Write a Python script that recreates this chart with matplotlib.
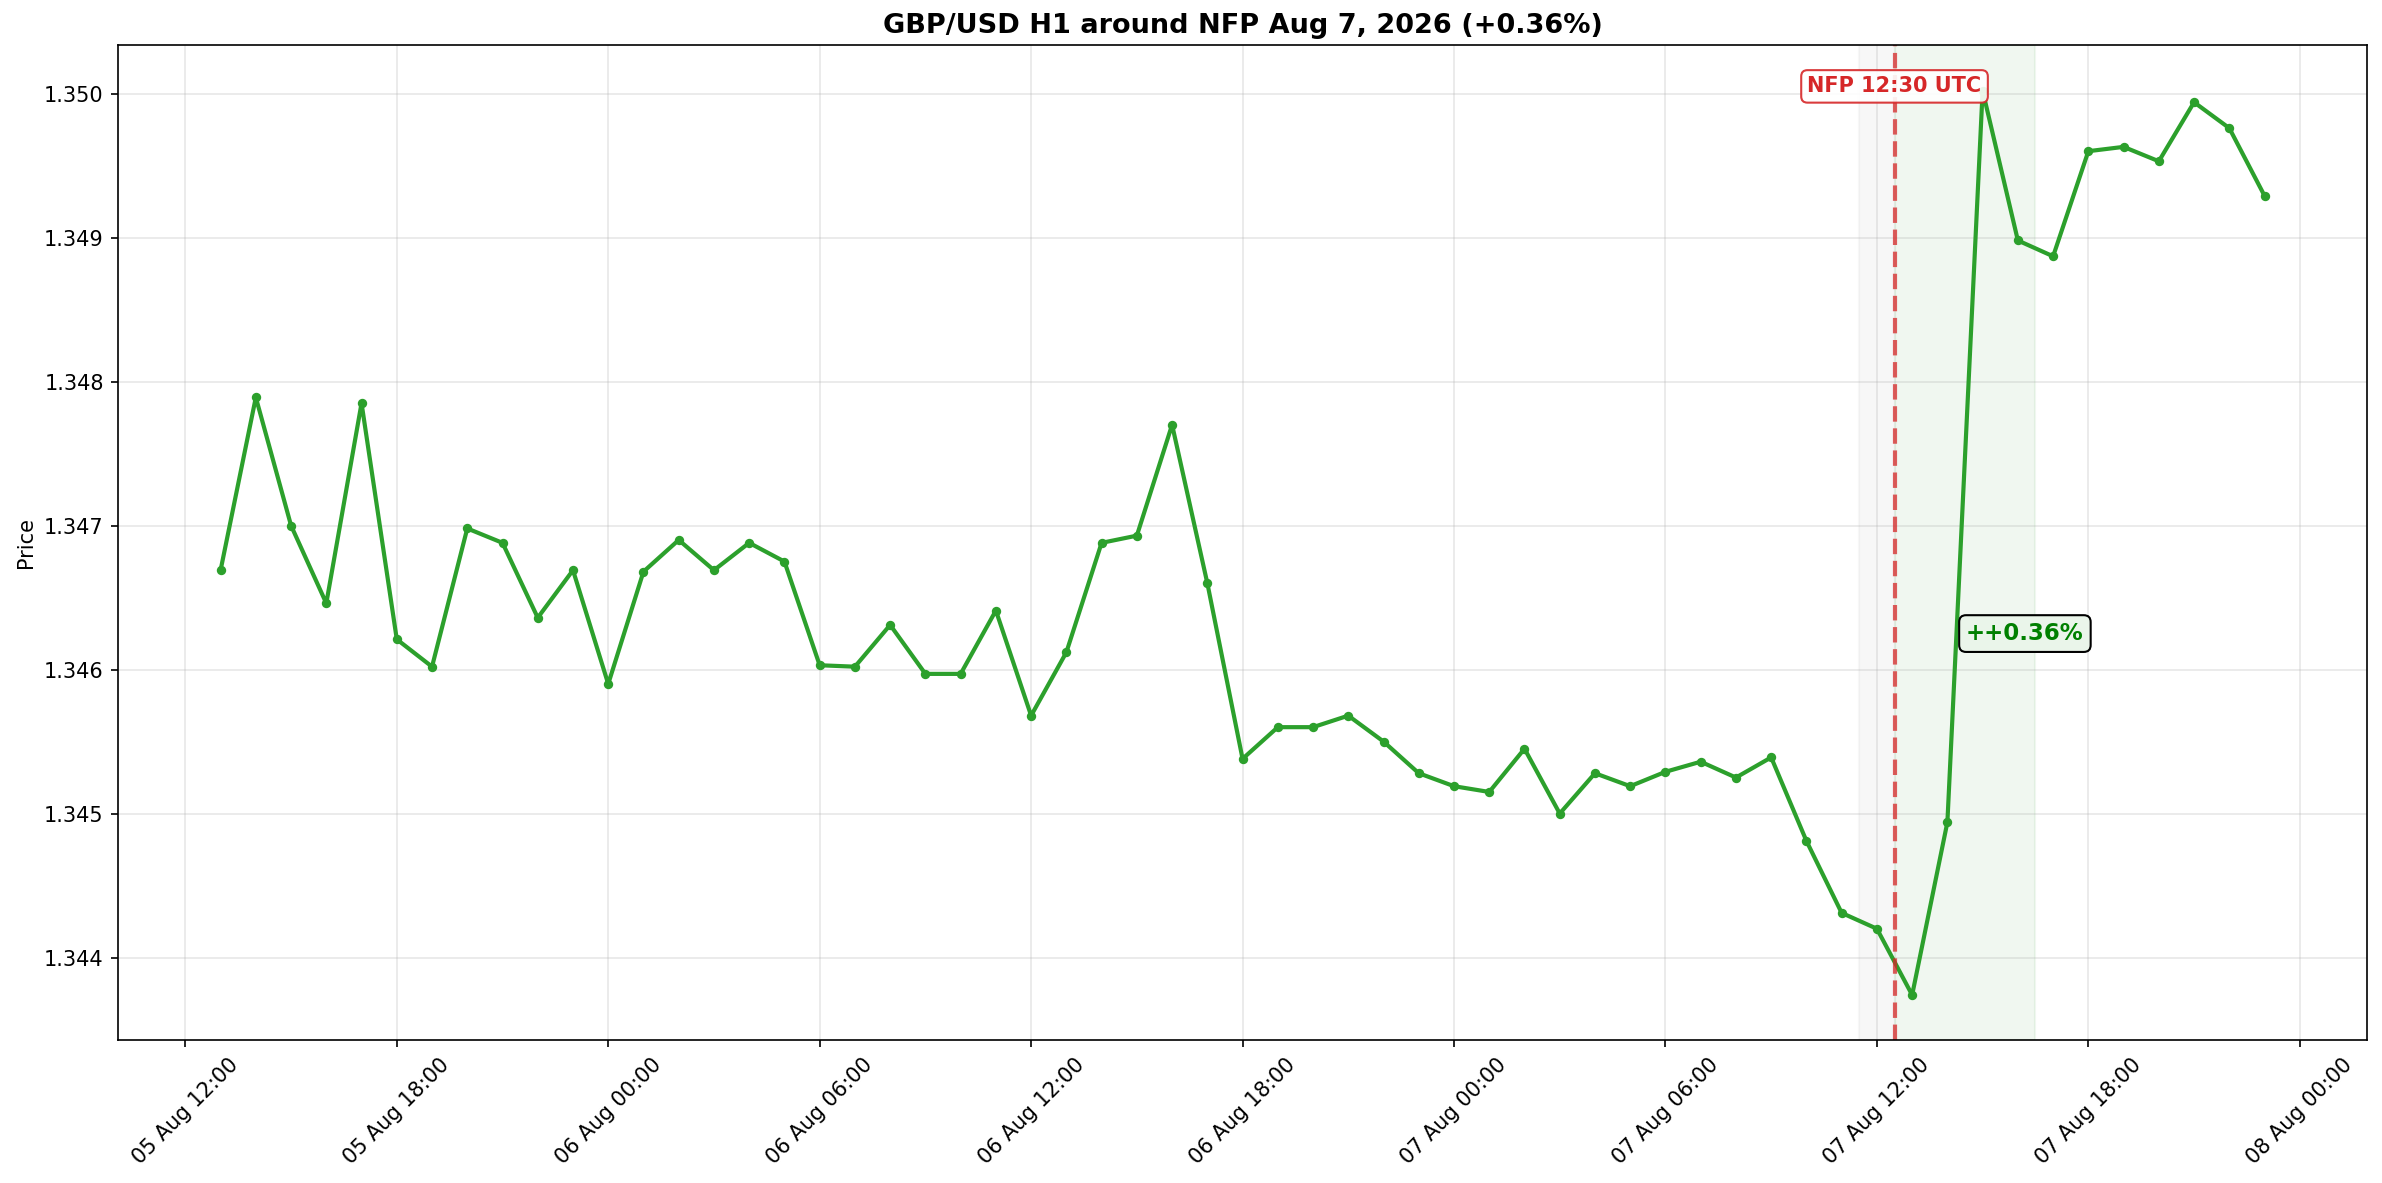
import matplotlib
matplotlib.use("Agg")
import matplotlib.pyplot as plt
import matplotlib.dates as mdates
import pandas as pd

start_time = "2026-08-05 13:00"
prices = [
    1.34669, 1.34789, 1.34700, 1.34646, 1.34785, 1.34621, 1.34602, 1.34698, 1.34688, 1.34636,
    1.34669, 1.34590, 1.34668, 1.34690, 1.34669, 1.34688, 1.34675, 1.34603, 1.34602, 1.34631,
    1.34597, 1.34597, 1.34641, 1.34568, 1.34612, 1.34688, 1.34693, 1.34770, 1.34660, 1.34538,
    1.34560, 1.34560, 1.34568, 1.34550, 1.34528, 1.34519, 1.34515, 1.34545, 1.34500, 1.34528,
    1.34519, 1.34529, 1.34536, 1.34525, 1.34539, 1.34481, 1.34431, 1.34420, 1.34374, 1.34494,
    1.35002, 1.34898, 1.34887, 1.34960, 1.34963, 1.34953, 1.34994, 1.34976, 1.34929,
]
nfp_time = "2026-08-07 12:30"
nfp_label = "NFP 12:30 UTC"
change_label = "++0.36%"
title = "GBP/USD H1 around NFP Aug 7, 2026 (+0.36%)"

times = pd.date_range(start_time, periods=len(prices), freq="h")
nfp = pd.Timestamp(nfp_time)

fig, ax = plt.subplots(figsize=(15.88, 7.887), dpi=150)
fig.subplots_adjust(left=0.0497, right=0.9936, top=0.9615, bottom=0.1207)
ax.axvspan(nfp - pd.Timedelta(hours=1), nfp, color="gray", alpha=0.06)
ax.axvspan(nfp, nfp + pd.Timedelta(hours=4), color="green", alpha=0.06)
ax.plot(times, prices, color="#2ca02c", linewidth=2, marker="o", markersize=3.5)
ax.axvline(nfp, color="#d62728", linestyle="--", linewidth=2, alpha=0.75)

ax.text(nfp, 1.35005, nfp_label, color="#d62728", fontsize=10, fontweight="bold",
        ha="center", va="center",
        bbox=dict(boxstyle="round,pad=0.3", facecolor="white", edgecolor="#d62728", alpha=0.9))
ax.text(nfp + pd.Timedelta(hours=3.7), 1.34625, change_label, color="green", fontsize=11,
        fontweight="bold", ha="center", va="center",
        bbox=dict(boxstyle="round,pad=0.3", facecolor="#eaf5ea", edgecolor="black"))

ax.set_title(title, fontsize=13, fontweight="bold")
ax.set_ylabel("Price")
ax.grid(True, alpha=0.3)
ax.xaxis.set_major_locator(mdates.HourLocator(byhour=[0, 6, 12, 18]))
ax.xaxis.set_major_formatter(mdates.DateFormatter("%d %b %H:%M"))
plt.setp(ax.get_xticklabels(), rotation=45)
fig.savefig("out.png", dpi=150)
